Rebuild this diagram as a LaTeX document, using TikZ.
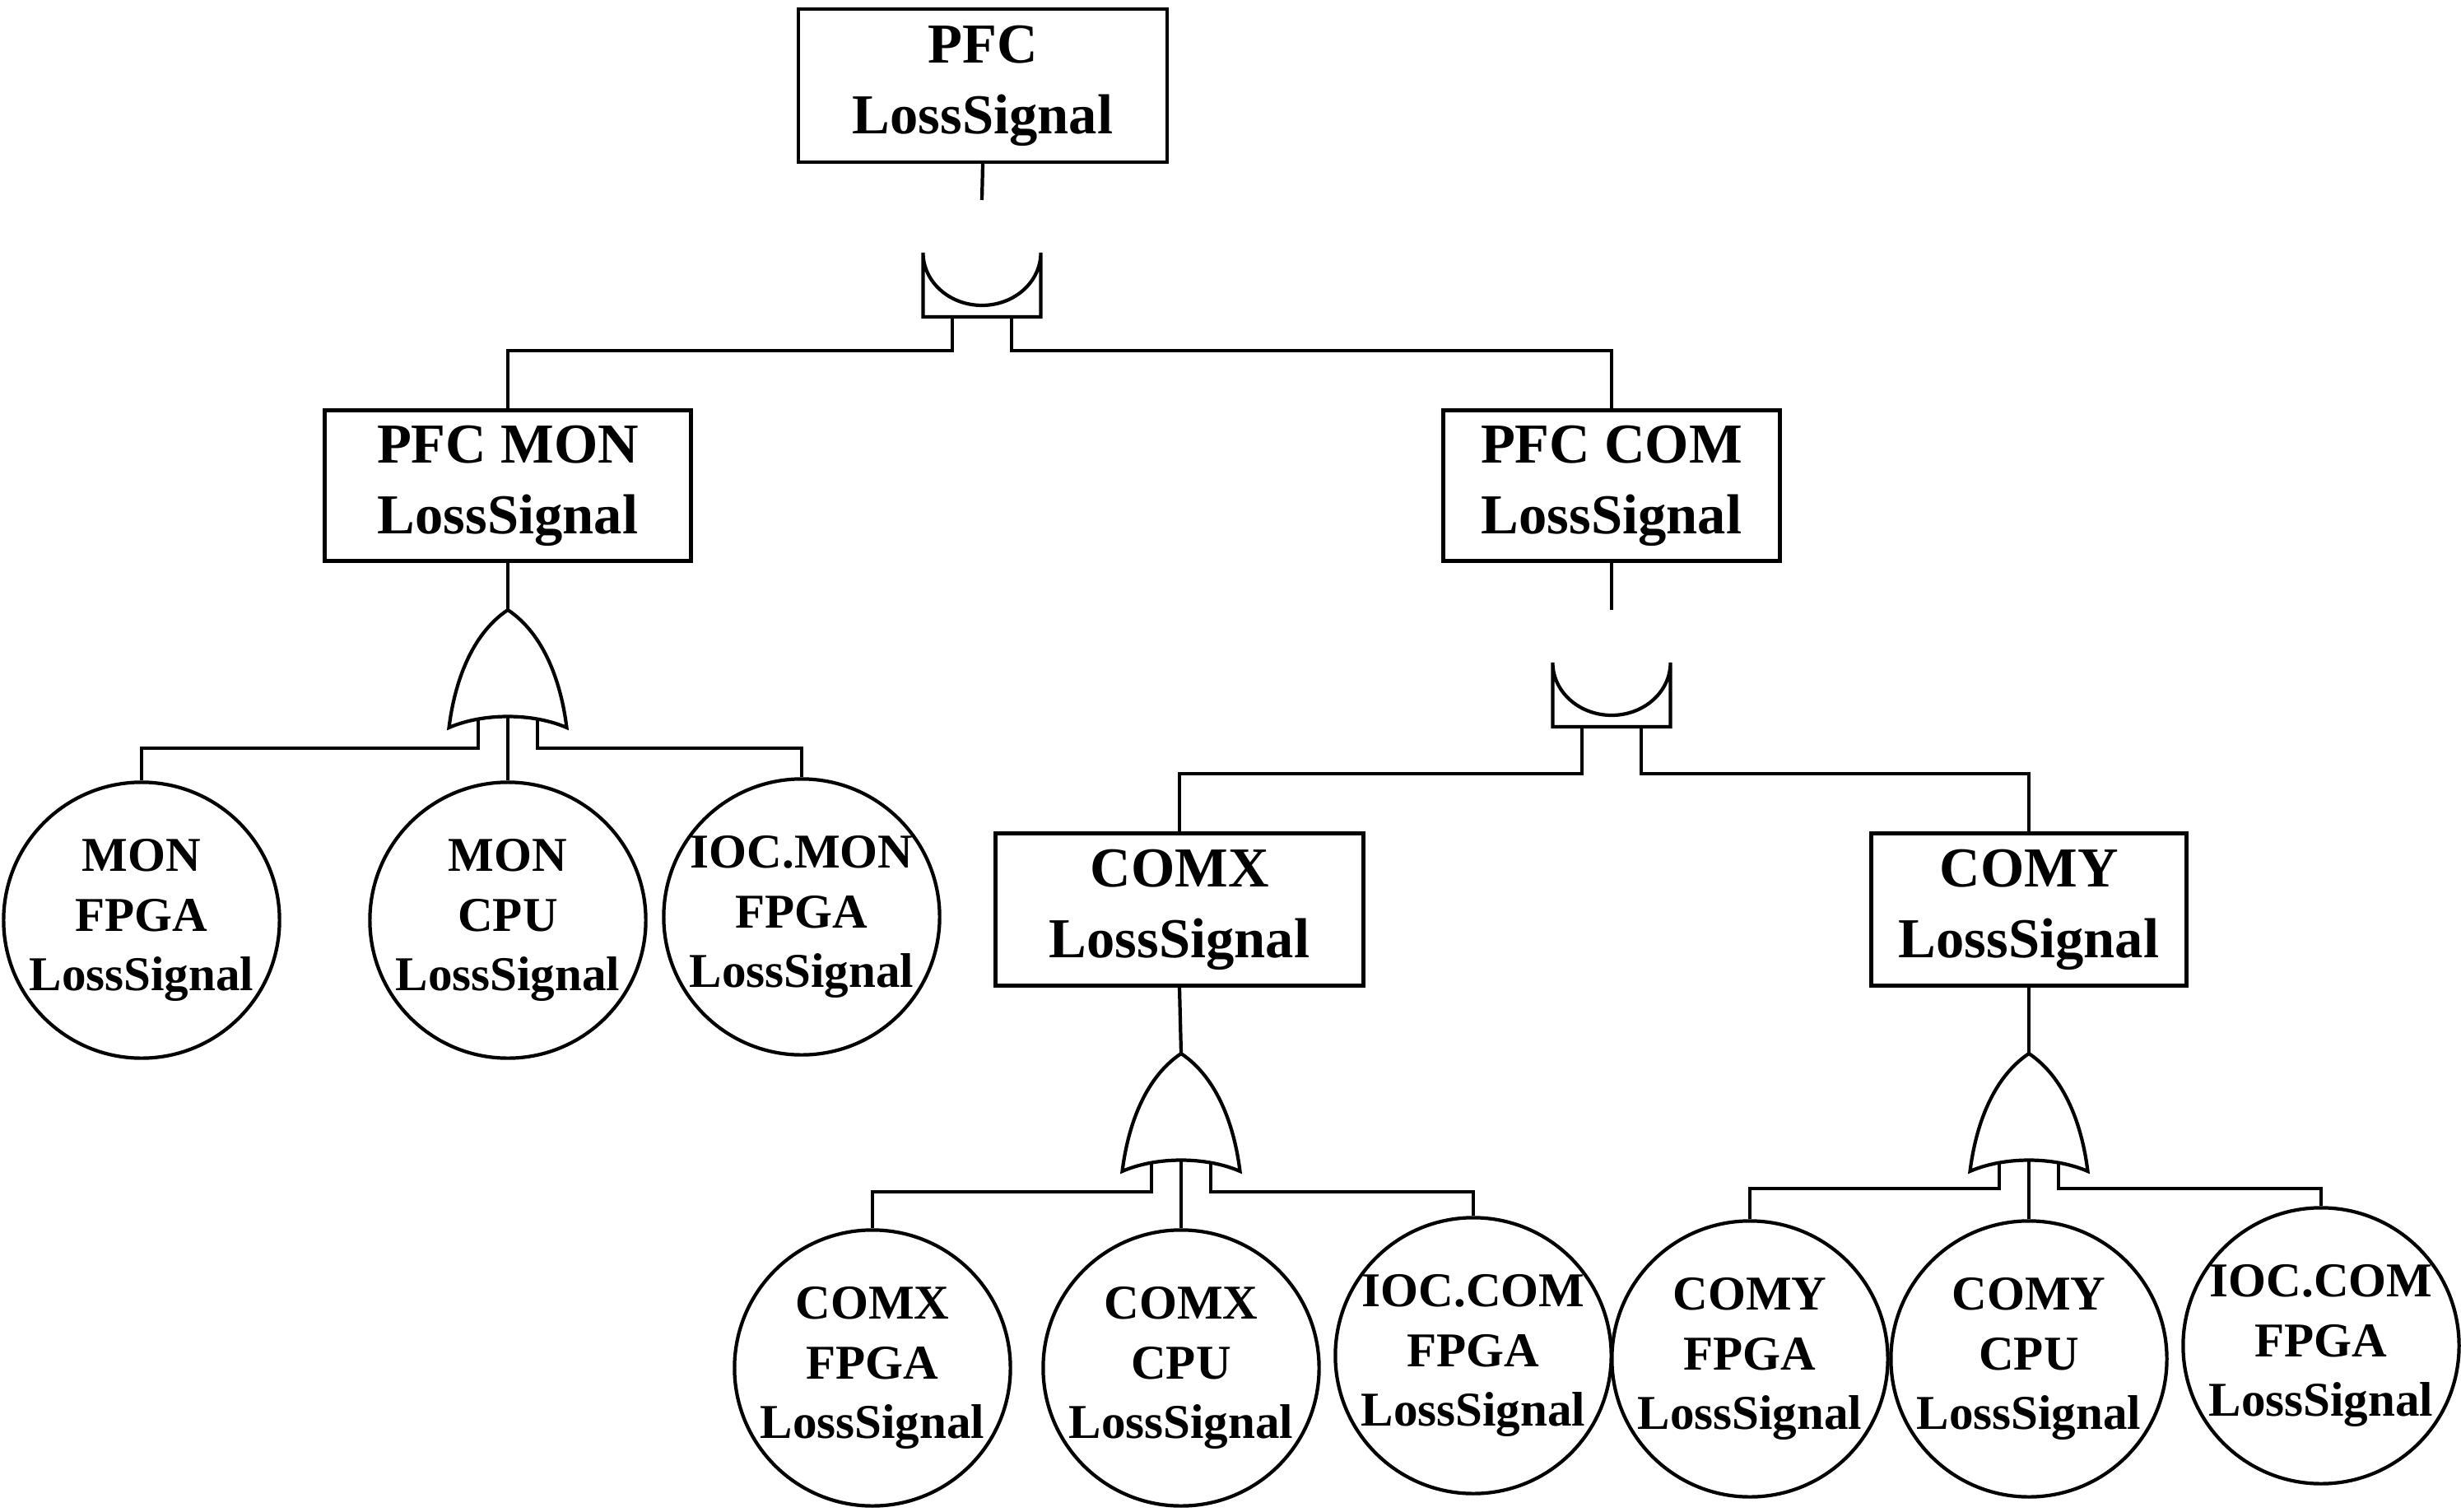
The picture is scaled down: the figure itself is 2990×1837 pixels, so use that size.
\documentclass[tikz,border=0pt]{standalone}
\usepackage{fontspec}
\setmainfont{Liberation Serif}
\begin{document}
\begin{tikzpicture}[x=0.1mm,y=-0.1mm,line width=1.2pt,
  box/.style={draw,rectangle,inner sep=0pt,font=\fontsize{19.5}{24.4}\selectfont\bfseries,align=center},
  ev/.style={draw,circle,minimum size=32mm,inner sep=0pt,font=\fontsize{16.8}{20.7}\selectfont\bfseries,align=center},
  andg/.pic={\draw (-71.5,142) -- (-71.5,64) arc[start angle=180,end angle=360,x radius=7.15mm,y radius=6.4mm] -- (71.5,142) -- cycle;},
  org/.pic={\draw (0,0) .. controls (45,30) and (65,90) .. (71.5,143) .. controls (30,125) and (-30,125) .. (-71.5,143) .. controls (-65,90) and (-45,30) .. (0,0) -- cycle;}
]
\useasboundingbox (0,0) rectangle (2990,1837);
% boxes
\node[box,minimum width=44.8mm,minimum height=18.6mm] (top) at (1194,104) {PFC\\LossSignal};
\node[box,minimum width=44.5mm,minimum height=18.3mm] (mon) at (617,590) {PFC MON\\LossSignal};
\node[box,minimum width=40.9mm,minimum height=18.3mm] (com) at (1958,590) {PFC COM\\LossSignal};
\node[box,minimum width=44.7mm,minimum height=18.5mm] (comx) at (1433,1105) {COMX\\LossSignal};
\node[box,minimum width=38.3mm,minimum height=18.5mm] (comy) at (2465,1105) {COMY\\LossSignal};
% events
\node[ev] (m1) at (172,1118) {MON\\FPGA\\LossSignal};
\node[ev] (m2) at (617,1118) {MON\\CPU\\LossSignal};
\node[ev] (m3) at (974,1114) {IOC.MON\\FPGA\\LossSignal};
\node[ev] (x1) at (1060,1662) {COMX\\FPGA\\LossSignal};
\node[ev] (x2) at (1435,1662) {COMX\\CPU\\LossSignal};
\node[ev] (x3) at (1790,1647) {IOC.COM\\FPGA\\LossSignal};
\node[ev] (y1) at (2126,1651) {COMY\\FPGA\\LossSignal};
\node[ev] (y2) at (2465,1651) {COMY\\CPU\\LossSignal};
\node[ev] (y3) at (2820,1635) {IOC.COM\\FPGA\\LossSignal};
% gates
\pic at (1193,243) {andg};
\pic at (617,741) {org};
\pic at (1958,741) {andg};
\pic at (1435,1280) {org};
\pic at (2465,1280) {org};
\coordinate (g1) at (1193,243);
\coordinate (g2) at (617,741);
\coordinate (g3) at (1958,741);
\coordinate (g4) at (1435,1280);
\coordinate (g5) at (2465,1280);
% connectors top
\draw (top.south) -- (g1);
\draw (mon.north) |- ([shift={(-36,183)}]g1) -- ([shift={(-36,142)}]g1);
\draw (com.north) |- ([shift={(36,183)}]g1) -- ([shift={(36,142)}]g1);
% MON
\draw (mon.south) -- (g2);
\draw ([shift={(0,130)}]g2) -- (m2.north);
\draw (m1.north) |- ([shift={(-36,168)}]g2) -- ([shift={(-36,134)}]g2);
\draw (m3.north) |- ([shift={(36,168)}]g2) -- ([shift={(36,134)}]g2);
% COM
\draw (com.south) -- (g3);
\draw (comx.north) |- ([shift={(-36,199)}]g3) -- ([shift={(-36,142)}]g3);
\draw (comy.north) |- ([shift={(36,199)}]g3) -- ([shift={(36,142)}]g3);
% COMX
\draw (comx.south) -- (g4);
\draw ([shift={(0,130)}]g4) -- (x2.north);
\draw (x1.north) |- ([shift={(-36,168)}]g4) -- ([shift={(-36,134)}]g4);
\draw (x3.north) |- ([shift={(36,168)}]g4) -- ([shift={(36,134)}]g4);
% COMY
\draw (comy.south) -- (g5);
\draw ([shift={(0,130)}]g5) -- (y2.north);
\draw (y1.north) |- ([shift={(-36,164)}]g5) -- ([shift={(-36,134)}]g5);
\draw (y3.north) |- ([shift={(36,164)}]g5) -- ([shift={(36,134)}]g5);
\end{tikzpicture}
\end{document}
